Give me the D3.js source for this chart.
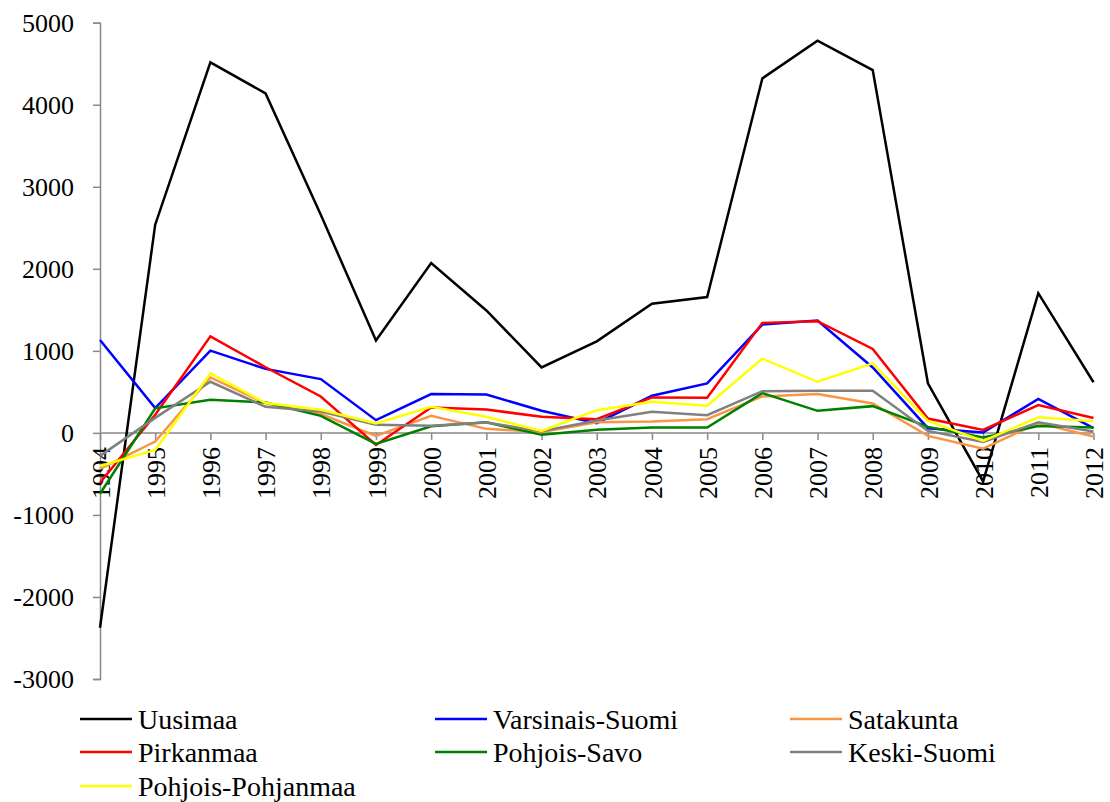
<!DOCTYPE html>
<html>
<head>
<meta charset="utf-8">
<script src="https://cdn.jsdelivr.net/npm/d3@7"></script>
<style>
  html, body { margin: 0; padding: 0; background: #fff; }
  svg { display: block; }
  text { font-family: "Liberation Serif", "DejaVu Serif", "Times New Roman", serif; fill: #000; }
</style>
</head>
<body>
<svg id="chart" width="1110" height="802"></svg>
<script>
const years = ["1994","1995","1996","1997","1998","1999","2000","2001","2002","2003","2004","2005","2006","2007","2008","2009","2010","2011","2012"];
const yTicks = [-3000, -2000, -1000, 0, 1000, 2000, 3000, 4000, 5000];

const seriesNames = ["Uusimaa","Varsinais-Suomi","Satakunta","Pirkanmaa","Pohjois-Savo","Keski-Suomi","Pohjois-Pohjanmaa"];
const seriesColors = ["#000000","#0000FF","#F79646","#FF0000","#008000","#808080","#FFFF00"];

const uusimaa          = [-2375, 2538, 4516, 4138, 2660, 1125, 2070, 1492, 798, 1116, 1574, 1655, 4321, 4780, 4422, 604, -592, 1703, 617];
const varsinaisSuomi   = [1133, 302, 1002, 780, 656, 155, 473, 468, 269, 118, 452, 603, 1320, 1369, 798, 57, 4, 414, 57];
const satakunta        = [-440, -106, 676, 360, 230, -37, 208, 49, 10, 130, 138, 167, 444, 473, 358, -37, -192, 120, -43];
const pirkanmaa        = [-607, 220, 1177, 800, 444, -147, 310, 285, 196, 167, 432, 428, 1341, 1361, 1023, 175, 37, 340, 182];
const pohjoisSavo      = [-742, 300, 403, 370, 208, -135, 80, 130, -24, 37, 65, 65, 485, 269, 326, 73, -57, 85, 67];
const keskiSuomi       = [-280, 183, 623, 318, 260, 98, 86, 126, 20, 150, 257, 216, 509, 513, 513, 24, -110, 128, 18];
const pohjoisPohjanmaa = [-403, -208, 725, 363, 281, 114, 318, 196, 24, 277, 379, 330, 905, 623, 847, 147, -98, 190, 141];

const seriesValues = [uusimaa, varsinaisSuomi, satakunta, pirkanmaa, pohjoisSavo, keskiSuomi, pohjoisPohjanmaa];

const svg = d3.select("#chart");
const axisColor = "#898989";
const fontSize = 26;
const legendFontSize = 28;
const fontFam = "Liberation Serif, DejaVu Serif, serif";

const x = d3.scalePoint().domain(years).range([100, 1093.5]);
const y = d3.scaleLinear().domain([-3000, 5000]).range([679, 22.7]);

// Y axis
const yAxis = d3.axisLeft(y).tickValues(yTicks).tickSize(7).tickPadding(19).tickFormat(d3.format("d"));
const gy = svg.append("g").attr("transform", "translate(100,0)").call(yAxis);
gy.attr("font-family", fontFam);
gy.select(".domain").attr("stroke", axisColor).attr("stroke-width", 1.5);
gy.selectAll(".tick line").attr("stroke", axisColor).attr("stroke-width", 1.5);
gy.selectAll(".tick text").attr("font-size", fontSize).attr("fill", "#000")
  .text(d => d < 0 ? "-" + Math.abs(d) : String(d));

// X axis at zero
const xAxis = d3.axisBottom(x).tickSize(7).tickSizeOuter(0);
const gx = svg.append("g").attr("transform", `translate(0,${y(0)})`).call(xAxis);
gx.attr("font-family", fontFam);
gx.select(".domain").attr("stroke", axisColor).attr("stroke-width", 1.5).attr("d", `M100,0H1093.5`);
gx.selectAll(".tick line").attr("stroke", axisColor).attr("stroke-width", 1.5);
gx.selectAll(".tick text")
  .attr("font-size", fontSize).attr("fill", "#000")
  .attr("text-anchor", "end")
  .attr("transform", "translate(0,14) rotate(-90)")
  .attr("x", 0).attr("y", 0).attr("dy", "0.35em");

// Lines
const line = d3.line().x((d, i) => x(years[i])).y(d => y(d));
seriesValues.forEach((vals, i) => {
  svg.append("path")
    .datum(vals)
    .attr("fill", "none")
    .attr("stroke", seriesColors[i])
    .attr("stroke-width", 2.5)
    .attr("stroke-linejoin", "miter")
    .attr("d", line);
});

// Legend
const legendCols = [80, 435, 790];
const legendRows = [719, 752, 786];
const legend = svg.append("g").attr("font-family", fontFam);
seriesNames.forEach((name, i) => {
  const cx = legendCols[i % 3];
  const cy = legendRows[Math.floor(i / 3)];
  legend.append("line")
    .attr("x1", cx).attr("x2", cx + 52)
    .attr("y1", cy).attr("y2", cy)
    .attr("stroke", seriesColors[i]).attr("stroke-width", 2.5);
  legend.append("text")
    .attr("x", cx + 58).attr("y", cy)
    .attr("dy", "0.35em")
    .attr("font-size", legendFontSize)
    .text(name);
});
</script>
</body>
</html>
